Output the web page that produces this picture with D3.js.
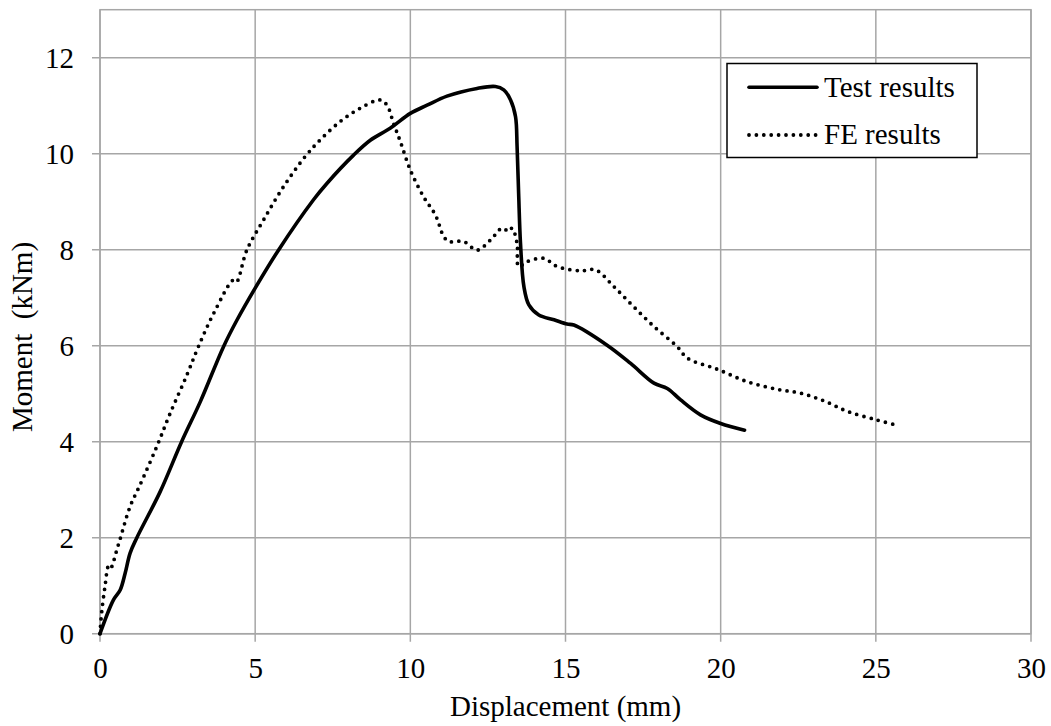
<!DOCTYPE html>
<html>
<head>
<meta charset="utf-8">
<script src="https://cdn.jsdelivr.net/npm/d3@7"></script>
<style>
  html, body { margin: 0; padding: 0; background: #fff; }
  svg { display: block; }
  text { font-family: "Liberation Serif", "Times New Roman", serif; fill: #000; }
</style>
</head>
<body>
<svg id="chart" width="1051" height="726"></svg>
<script>
// Moment–displacement curves: test measurement vs. finite element model
const testDisp = [0, 0.43, 0.65, 0.81, 0.97, 1.18, 1.94, 2.63, 3.23, 3.98, 4.41, 5.0, 5.75, 6.88, 7.31, 8.17, 8.71, 9.35, 10.0, 10.54, 11.18, 12.15, 12.74, 13.01, 13.23, 13.39, 13.44, 13.49, 13.55, 13.66, 13.82, 14.14, 14.63, 15.05, 15.27, 16.34, 17.1, 17.85, 18.28, 18.71, 19.35, 20.0, 20.77];
const testMoment = [0, 0.70, 0.91, 1.26, 1.68, 1.99, 2.96, 4.0, 4.83, 5.98, 6.53, 7.2, 7.99, 9.04, 9.38, 9.97, 10.28, 10.53, 10.84, 11.01, 11.2, 11.36, 11.40, 11.33, 11.12, 10.77, 10.15, 9.17, 8.13, 7.23, 6.85, 6.64, 6.54, 6.45, 6.43, 6.01, 5.63, 5.22, 5.11, 4.87, 4.56, 4.38, 4.24];

const feDisp = [0, 0.05, 0.16, 0.27, 0.33, 0.59, 0.97, 1.29, 1.83, 2.26, 2.80, 3.17, 3.66, 4.30, 4.40, 4.73, 5.27, 5.91, 6.61, 7.1, 7.74, 8.39, 9.03, 9.25, 9.46, 9.68, 10.0, 10.43, 10.81, 11.08, 11.24, 11.72, 12.15, 12.58, 12.96, 13.17, 13.28, 13.44, 13.49, 13.76, 14.3, 14.73, 15.48, 15.97, 16.56, 17.2, 17.85, 18.6, 18.93, 19.89, 20.86, 21.83, 22.58, 23.33, 24.09, 25.05, 25.75];
const feMoment = [0, 0.42, 0.98, 1.40, 1.35, 1.85, 2.65, 3.10, 3.9, 4.59, 5.39, 5.98, 6.67, 7.37, 7.33, 7.99, 8.62, 9.31, 9.94, 10.29, 10.67, 10.95, 11.12, 11.01, 10.63, 10.25, 9.66, 9.1, 8.72, 8.27, 8.17, 8.17, 7.99, 8.2, 8.45, 8.38, 8.45, 8.13, 7.65, 7.75, 7.82, 7.65, 7.56, 7.58, 7.23, 6.81, 6.4, 5.98, 5.74, 5.51, 5.25, 5.09, 5.01, 4.85, 4.63, 4.45, 4.33];

const xTicks = [0, 5, 10, 15, 20, 25, 30];
const yTicks = [0, 2, 4, 6, 8, 10, 12];
const seriesNames = ["Test results", "FE results"];

const svg = d3.select("#chart");
const plot = { left: 100, right: 1031, top: 9.7, bottom: 633.7 };

const x = d3.scaleLinear().domain([0, 30]).range([plot.left, plot.right]);
const y = d3.scaleLinear().domain([0, 13]).range([plot.bottom, plot.top]);

const gridColor = "#a6a6a6";

// gridlines and outer frame
const grid = svg.append("g");
grid.selectAll("line.v").data(xTicks).join("line")
  .attr("x1", d => x(d)).attr("x2", d => x(d))
  .attr("y1", plot.top).attr("y2", plot.bottom + 8)
  .attr("stroke", gridColor).attr("stroke-width", 1.5);
grid.selectAll("line.h").data(yTicks).join("line")
  .attr("x1", plot.left - 8).attr("x2", plot.right)
  .attr("y1", d => y(d)).attr("y2", d => y(d))
  .attr("stroke", gridColor).attr("stroke-width", 1.5);
grid.append("rect")
  .attr("x", plot.left).attr("y", plot.top)
  .attr("width", plot.right - plot.left).attr("height", plot.bottom - plot.top)
  .attr("fill", "none").attr("stroke", gridColor).attr("stroke-width", 1.5);

// tick labels through d3 axes (domain and tick marks hidden; gridlines drawn above)
const xAxis = svg.append("g").attr("transform", `translate(0,${plot.bottom})`)
  .call(d3.axisBottom(x).tickValues(xTicks).tickFormat(d3.format("d")).tickSize(0).tickPadding(0));
xAxis.select(".domain").remove();
xAxis.selectAll("text").attr("font-size", 29).attr("dy", null).attr("y", 44)
  .style("font-family", "'Liberation Serif', serif");

const yAxis = svg.append("g").attr("transform", `translate(74,0)`)
  .call(d3.axisLeft(y).tickValues(yTicks).tickFormat(d3.format("d")).tickSize(0).tickPadding(0));
yAxis.select(".domain").remove();
yAxis.selectAll("text").attr("font-size", 29).attr("dy", "0.34em").attr("x", 0)
  .style("font-family", "'Liberation Serif', serif");

// axis titles
svg.append("text")
  .attr("x", (plot.left + plot.right) / 2).attr("y", 716)
  .attr("text-anchor", "middle").attr("font-size", 29)
  .text("Displacement (mm)");
svg.append("text")
  .attr("transform", "translate(32,337) rotate(-90)")
  .attr("text-anchor", "middle").attr("font-size", 29)
  .attr("xml:space", "preserve")
  .text("Moment  (kNm)");

// series
const line = d3.line()
  .x(d => x(d[0])).y(d => y(d[1]))
  .curve(d3.curveCatmullRom.alpha(0.5));

const testPts = testDisp.map((d, i) => [d, testMoment[i]]);
const fePts = feDisp.map((d, i) => [d, feMoment[i]]);

svg.append("path").datum(fePts)
  .attr("d", line).attr("fill", "none").attr("stroke", "#000")
  .attr("stroke-width", 3.8).attr("stroke-linecap", "round")
  .attr("stroke-dasharray", "0 7.4");

svg.append("path").datum(testPts)
  .attr("d", line).attr("fill", "none").attr("stroke", "#000")
  .attr("stroke-width", 3.6).attr("stroke-linejoin", "round").attr("stroke-linecap", "round");

// legend
const legend = svg.append("g");
legend.append("rect")
  .attr("x", 727).attr("y", 63.5).attr("width", 250).attr("height", 94)
  .attr("fill", "#fff").attr("stroke", "#000").attr("stroke-width", 1.5);
legend.append("line")
  .attr("x1", 749).attr("x2", 817).attr("y1", 87.3).attr("y2", 87.3)
  .attr("stroke", "#000").attr("stroke-width", 3.6).attr("stroke-linecap", "round");
legend.append("line")
  .attr("x1", 749).attr("x2", 817).attr("y1", 135).attr("y2", 135)
  .attr("stroke", "#000").attr("stroke-width", 3.8).attr("stroke-linecap", "round")
  .attr("stroke-dasharray", "0 7.4");
legend.selectAll("text.lbl").data(seriesNames).join("text")
  .attr("x", 824).attr("y", (d, i) => i === 0 ? 96.7 : 144)
  .attr("font-size", 29)
  .text(d => d);
</script>
</body>
</html>
